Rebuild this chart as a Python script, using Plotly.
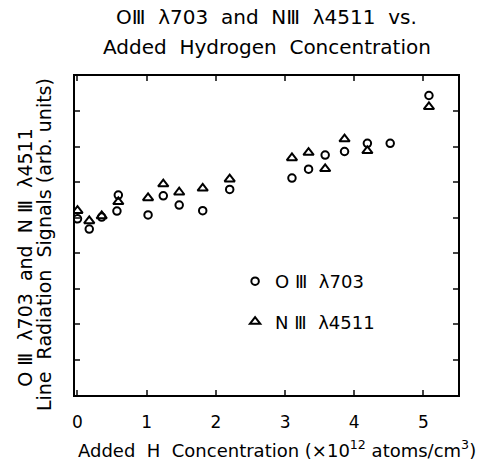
import plotly.graph_objects as go

# O III λ703 data (x in 1e12 atoms/cm^3, y in arb. units)
o3_x = [0.0, 0.17, 0.35, 0.57, 0.59, 1.02, 1.24, 1.47, 1.81, 2.20, 3.10, 3.34, 3.58, 3.86, 4.19, 4.52, 5.08]
o3_y = [4.97, 4.68, 5.02, 5.19, 5.64, 5.08, 5.62, 5.36, 5.20, 5.80, 6.12, 6.37, 6.77, 6.87, 7.10, 7.10, 8.45]

# N III λ4511 data
n3_x = [0.0, 0.17, 0.35, 0.59, 1.02, 1.24, 1.47, 1.81, 2.20, 3.10, 3.34, 3.58, 3.86, 4.19, 5.08]
n3_y = [5.20, 4.91, 5.05, 5.45, 5.56, 5.95, 5.72, 5.83, 6.09, 6.69, 6.84, 6.38, 7.22, 6.89, 8.13]

x_ticks = [0, 1, 2, 3, 4, 5]
y_ticks = [1, 2, 3, 4, 5, 6, 7, 8]

FONT = "DejaVu Sans"

fig = go.Figure()
fig.add_trace(go.Scatter(
    x=o3_x, y=o3_y, mode="markers", name="O Ⅲ  λ703", legendgroup="o3",
    marker=dict(symbol="circle-open", size=7.5, color="black", line=dict(width=2, color="black")),
))
fig.add_trace(go.Scatter(
    x=n3_x, y=n3_y, mode="markers", name="N Ⅲ  λ4511", legendgroup="n3",
    marker=dict(symbol="triangle-up-open", size=9, color="black", line=dict(width=2, color="black")),
))

fig.update_layout(
    width=490, height=469,
    margin=dict(l=75, r=32, t=76, b=74),
    paper_bgcolor="white", plot_bgcolor="white",
    font=dict(family=FONT, color="black", size=15),
    showlegend=True,
    legend=dict(x=0.418, y=0.414, xanchor="left", yanchor="top",
                font=dict(size=18, family=FONT), tracegroupgap=14,
                bgcolor="rgba(0,0,0,0)", itemsizing="trace"),
    xaxis=dict(range=[-0.036, 5.50], tickvals=x_ticks, ticks="inside", ticklen=5,
               tickwidth=1.5, showline=True, linecolor="black", linewidth=2,
               mirror="ticks", showgrid=False, zeroline=False, ticklabelstandoff=11,
               tickfont=dict(size=17, family=FONT)),
    yaxis=dict(range=[0, 9], tickvals=y_ticks, ticks="inside", ticklen=5,
               tickwidth=1.5, showline=True, linecolor="black", linewidth=2,
               mirror="ticks", showgrid=False, zeroline=False, showticklabels=False),
    annotations=[
        dict(text="OⅢ  λ703  and  NⅢ  λ4511  vs.", xref="paper", yref="paper",
             x=0.5, y=1.0, yshift=59, showarrow=False, font=dict(size=20, family=FONT),
             xanchor="center", yanchor="middle"),
        dict(text="Added  Hydrogen  Concentration", xref="paper", yref="paper",
             x=0.5, y=1.0, yshift=29, showarrow=False, font=dict(size=20, family=FONT),
             xanchor="center", yanchor="middle"),
        dict(text="Added  H  Concentration (×10<sup>12</sup> atoms/cm<sup>3</sup>)",
             xref="paper", yref="paper", x=0.5, y=0, yshift=-54, xshift=10,
             showarrow=False, font=dict(size=18, family=FONT),
             xanchor="center", yanchor="middle"),
        dict(text="O Ⅲ  λ703  and  N Ⅲ  λ4511", xref="paper", yref="paper",
             x=0, xshift=-50, y=0.43, textangle=-90, showarrow=False,
             font=dict(size=19, family=FONT), xanchor="center", yanchor="middle"),
        dict(text="Line  Radiation  Signals (arb. units)", xref="paper", yref="paper",
             x=0, xshift=-31, y=0.47, textangle=-90, showarrow=False,
             font=dict(size=19, family=FONT), xanchor="center", yanchor="middle"),
    ],
)

fig.write_html("out.html")
